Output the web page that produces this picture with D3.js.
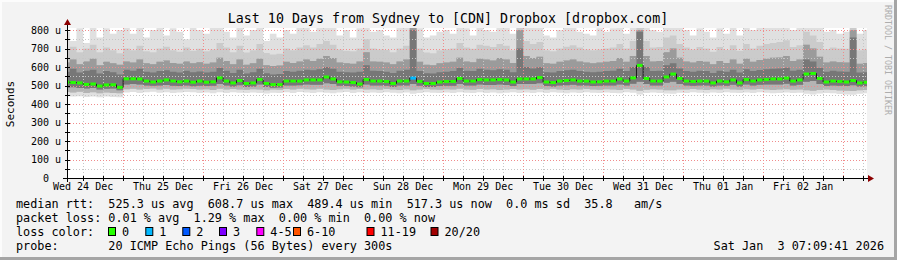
<!DOCTYPE html>
<html>
<head>
<meta charset="utf-8">
<script src="https://cdn.jsdelivr.net/npm/d3@7"></script>
<style>
body { margin: 0; background: #f3f3f3; }
svg text { font-family: "DejaVu Sans Mono", monospace; fill: #000; }
</style>
</head>
<body>
<script>
// 2-hourly consolidated data, first bin starts Wed 24 Dec 06:00
var median = [518,516,514,506,508,497,503,504,490,
  536,536,535,524,519,524,530,524,520,524,518,524,
  518,520,541,524,514,527,511,514,532,511,505,505,
  524,524,524,530,530,530,546,535,520,519,516,508,
  532,524,524,522,511,524,524,540,522,511,511,519,
  522,522,538,524,524,532,530,530,532,530,519,535,
  535,535,543,519,516,524,527,530,524,524,519,520,
  524,524,535,524,541,608.7,538,524,524,546,562,538,
  524,522,524,524,514,524,520,530,514,532,524,530,
  532,535,535,540,524,530,562,565,538,519,524,522,
  519,527,514,517.3];

// lost pings (of 20) per bin
var loss = [0,0,0,0,0,0,0,0,0, 0,0,0,0,0,0,0,0,0,0,0,0, 0,0,0,0,0,0,0,0,0,0,0,0,
  0,0,0,0,0,0,0,0,0,0,0,0, 0,0,0,0,0,0,0,1,0,0,0,0, 0,0,0,0,0,0,0,0,0,0,0,0,
  0,0,0,0,0,0,0,0,0,0,0,0, 0,0,0,0,0,0,0,0,0,0,0,0, 0,0,0,0,0,0,0,0,0,0,0,0,
  0,0,0,0,0,0,0,0,0,0,0,0, 0,0,0,0];

// smoke: spread of the 20 pings
var pingMin = [445,440,442,438,440,436,440,438,437,
  462,465,460,463,466,461,464,460,462,465,463,460,
  462,458,464,460,463,461,459,462,460,457,461,459,
  463,460,465,462,460,464,461,458,462,465,460,463,
  460,462,459,463,461,458,462,455,460,463,461,459,
  462,460,464,461,459,463,460,462,458,461,463,460,
  462,459,463,460,464,461,458,462,460,463,461,459,
  462,460,458,463,461,452,459,462,460,457,455,461,
  460,463,461,458,462,460,464,461,459,462,460,463,
  461,458,460,462,459,461,455,452,457,460,458,454,
  452,450,455,458];
var pingLow = [465,462,466,460,463,458,462,460,458,
  480,483,478,481,484,479,482,478,480,483,481,478,
  480,476,482,478,481,479,477,480,478,475,479,477,
  481,478,483,480,478,482,479,476,480,483,478,481,
  478,480,477,481,479,476,480,474,478,481,479,477,
  480,478,482,479,477,481,478,480,476,479,481,478,
  480,477,481,478,482,479,476,480,478,481,479,477,
  480,478,476,481,479,472,477,480,478,475,474,479,
  478,481,479,476,480,478,482,479,477,480,478,481,
  479,476,478,480,477,479,474,472,476,478,476,473,
  471,470,474,476];
var coreLow = [488,490,486,484,486,478,482,484,474,
  505,508,506,500,498,500,503,499,497,500,496,499,
  497,498,508,500,494,502,492,495,505,492,488,489,
  500,500,501,505,504,504,512,508,498,497,495,490,
  505,500,500,498,492,500,500,508,499,492,492,497,
  499,499,508,500,500,505,503,503,505,503,497,508,
  508,508,512,497,495,500,502,504,500,500,497,498,
  500,500,506,500,510,520,508,500,500,515,520,508,
  500,498,500,500,494,500,498,504,494,505,500,504,
  505,506,506,510,500,504,520,525,508,497,500,498,
  497,502,494,496];
var coreHigh = [575,590,570,580,585,565,578,572,560,
  585,580,590,575,570,578,582,574,570,580,572,576,
  570,575,595,580,568,585,565,572,590,566,560,562,
  578,575,580,585,582,588,600,590,574,572,570,575,
  610,580,578,575,568,580,585,800,578,566,565,572,
  575,578,595,580,578,590,585,583,588,585,572,700,
  600,592,598,572,570,578,582,585,578,575,572,574,
  578,580,590,578,600,790,600,578,580,610,620,592,
  578,575,580,578,568,580,574,585,570,588,578,584,
  588,590,592,596,580,585,640,630,595,574,580,576,
  575,760,570,572];
var pingMid = [625,640,615,630,645,610,628,620,612,
  630,625,640,620,615,628,635,622,618,630,620,626,
  618,625,650,632,615,640,612,620,645,610,605,608,
  628,622,630,640,632,645,660,648,625,620,618,630,
  680,630,628,625,615,630,640,820,628,612,610,620,
  625,628,650,630,626,645,640,635,648,640,622,800,
  660,648,655,620,618,628,635,640,630,625,620,624,
  628,632,648,628,660,800,660,630,632,680,700,650,
  630,625,632,628,615,632,622,640,618,645,628,638,
  645,650,652,660,632,640,720,700,655,624,630,626,
  625,800,618,622];
var pingHigh = [690,710,680,700,720,680,705,690,675,
  700,690,715,685,680,700,710,690,682,705,688,698,
  685,695,730,705,680,715,678,690,725,676,668,672,
  700,690,705,718,705,725,740,720,695,688,685,700,
  750,700,695,692,680,700,715,840,700,678,675,690,
  695,700,730,705,698,720,715,708,725,715,690,820,
  740,725,735,690,685,700,710,718,705,695,690,695,
  700,705,725,700,740,820,740,705,708,760,770,725,
  705,695,708,700,682,708,692,718,688,725,700,715,
  725,730,735,745,708,718,790,770,735,696,705,700,
  698,820,690,695];
var pingMax = [790,740,810,730,820,760,810,780,800,
  820,780,840,760,800,830,770,810,790,750,820,800,
  780,820,850,790,760,830,770,800,840,740,780,760,
  800,780,820,850,790,830,860,820,770,800,760,810,
  850,790,800,770,760,820,830,900,810,760,770,790,
  800,780,840,810,770,830,800,790,840,820,780,900,
  850,820,830,770,760,800,820,840,790,780,770,810,
  790,810,840,780,850,900,850,800,790,850,860,820,
  800,770,810,790,760,810,780,830,770,840,800,820,
  830,840,850,860,800,820,880,860,840,790,800,780,
  790,900,780,800];

var yTicks = [0,100,200,300,400,500,600,700,800];
var lossLabels = ["0","1","2","3","4-5","6-10","11-19","20/20"];
var lossColors = ["#26ff00","#00b8ff","#0059ff","#7e00ff","#ff00ff","#ff5500","#ff0000","#a10000"];
var statLines = [
  "median rtt:  525.3 us avg  608.7 us max  489.4 us min  517.3 us now  0.0 ms sd  35.8   am/s",
  "packet loss: 0.01 % avg  1.29 % max  0.00 % min  0.00 % now"
];
var probeLine = "probe:       20 ICMP Echo Pings (56 Bytes) every 300s";
var stamp = "Sat Jan  3 07:09:41 2026";

var w = 897, h = 260;
var pLeft = 67, pRight = 867, pTop = 28, pBottom = 178;

var svg = d3.select("body").append("svg")
  .attr("width", w)
  .attr("height", h);

svg.append("rect").attr("width", w).attr("height", h).attr("fill", "#f3f3f3");
// frame
svg.append("rect").attr("x", 0).attr("y", 0).attr("width", w).attr("height", 2).attr("fill", "#fcfcfc");
svg.append("rect").attr("x", 0).attr("y", 0).attr("width", 2).attr("height", h).attr("fill", "#fcfcfc");
svg.append("rect").attr("x", 0).attr("y", h - 3).attr("width", w).attr("height", 3).attr("fill", "#a5a5a5");
svg.append("rect").attr("x", w - 3).attr("y", 0).attr("width", 3).attr("height", h).attr("fill", "#a5a5a5");

svg.append("rect")
  .attr("x", pLeft).attr("y", pTop)
  .attr("width", pRight - pLeft).attr("height", pBottom - pTop)
  .attr("fill", "#fff");

var start = new Date(2025, 11, 24, 7, 9, 41);
var end = new Date(2026, 0, 3, 7, 9, 41);
var t0 = new Date(2025, 11, 24, 6, 0, 0);

var x = d3.scaleTime().domain([start, end]).range([pLeft, pRight]);
var y = d3.scaleLinear().domain([0, 800]).range([pBottom, 30]);

var rows = median.map(function(d, i) {
  return {t: d3.timeHour.offset(t0, 2 * i), med: d, loss: loss[i],
    mn: pingMin[i], lo: pingLow[i], cl: coreLow[i], ch: coreHigh[i],
    md: pingMid[i], hi: pingHigh[i], mx: pingMax[i]};
});
var last = rows[rows.length - 1];
var rowsExt = rows.concat([Object.assign({}, last, {t: d3.timeHour.offset(last.t, 2)})]);

svg.append("clipPath").attr("id", "plot")
  .append("rect").attr("x", pLeft).attr("y", pTop).attr("width", pRight - pLeft).attr("height", pBottom - pTop);

var g = svg.append("g").attr("clip-path", "url(#plot)");

// outer pairs of pings light, inner pairs dark
var bands = [
  ["mn", "mx", "#e0e0e0"],
  ["lo", "hi", "#cbcbcb"],
  ["lo", "md", "#b4b4b4"],
  ["cl", "md", "#9b9b9b"],
  ["cl", "ch", "#777777"]
];
bands.forEach(function(b) {
  g.append("path")
    .datum(rowsExt)
    .attr("fill", b[2])
    .attr("d", d3.area().curve(d3.curveStepAfter)
      .x(function(d) { return x(d.t); })
      .y0(function(d) { return y(d[b[0]]); })
      .y1(function(d) { return y(d[b[1]]); }));
});

// grid
var minorY = d3.range(50, 801, 100);
var hours6 = d3.timeHour.every(6).range(start, end).filter(function(d) { return d.getHours() != 0; });
var days = d3.timeDay.range(start, end);

var grid = svg.append("g").attr("shape-rendering", "crispEdges");
grid.selectAll(".hmin").data(minorY).enter().append("line")
  .attr("x1", pLeft).attr("x2", pRight)
  .attr("y1", function(d) { return Math.round(y(d)) + 0.5; })
  .attr("y2", function(d) { return Math.round(y(d)) + 0.5; })
  .style("stroke", "#c6c6c6").style("stroke-dasharray", "1,2");
grid.selectAll(".vmin").data(hours6).enter().append("line")
  .attr("y1", pTop).attr("y2", pBottom)
  .attr("x1", function(d) { return Math.round(x(d)) + 0.5; })
  .attr("x2", function(d) { return Math.round(x(d)) + 0.5; })
  .style("stroke", "#c6c6c6").style("stroke-dasharray", "1,2");
grid.selectAll(".hmaj").data(yTicks.slice(1)).enter().append("line")
  .attr("x1", pLeft).attr("x2", pRight)
  .attr("y1", function(d) { return Math.round(y(d)) + 0.5; })
  .attr("y2", function(d) { return Math.round(y(d)) + 0.5; })
  .style("stroke", "#f08c8c").style("stroke-dasharray", "1,2");
grid.selectAll(".vmaj").data(days).enter().append("line")
  .attr("y1", pTop).attr("y2", pBottom)
  .attr("x1", function(d) { return Math.round(x(d)) + 0.5; })
  .attr("x2", function(d) { return Math.round(x(d)) + 0.5; })
  .style("stroke", "#f08c8c").style("stroke-dasharray", "1,2");

// median line
var ml = svg.append("g").attr("clip-path", "url(#plot)");
ml.append("path")
  .datum(rowsExt)
  .attr("fill", "none")
  .attr("stroke", "#1c1c1c")
  .attr("stroke-width", 1)
  .attr("d", d3.line().curve(d3.curveStepAfter)
    .x(function(d) { return x(d.t); })
    .y(function(d) { return y(d.med); }));

function lossColor(n) {
  if (n >= 20) return lossColors[7];
  if (n >= 11) return lossColors[6];
  if (n >= 6) return lossColors[5];
  if (n >= 4) return lossColors[4];
  return lossColors[n];
}
ml.selectAll(".seg").data(rows).enter().append("line")
  .attr("x1", function(d) { return x(d.t) + 0.5; })
  .attr("x2", function(d) { return x(d3.timeHour.offset(d.t, 2)) - 0.5; })
  .attr("y1", function(d) { return y(d.med); })
  .attr("y2", function(d) { return y(d.med); })
  .attr("stroke", function(d) { return lossColor(d.loss); })
  .attr("stroke-width", 3);

// axes
var ax = svg.append("g").attr("shape-rendering", "crispEdges");
ax.append("line").attr("x1", pLeft - 4).attr("x2", pRight + 3).attr("y1", pBottom + 0.5).attr("y2", pBottom + 0.5)
  .style("stroke", "#000");
ax.append("line").attr("x1", pLeft + 0.5).attr("x2", pLeft + 0.5).attr("y1", pBottom + 4).attr("y2", pTop - 4)
  .style("stroke", "#000");
ax.selectAll(".yt").data(yTicks.slice(1).concat(minorY)).enter().append("line")
  .attr("x1", pLeft - 2).attr("x2", pLeft + 3)
  .attr("y1", function(d) { return Math.round(y(d)) + 0.5; })
  .attr("y2", function(d) { return Math.round(y(d)) + 0.5; })
  .style("stroke", "#000");
ax.selectAll(".xt").data(hours6.concat(days)).enter().append("line")
  .attr("y1", pBottom - 2).attr("y2", pBottom + 3)
  .attr("x1", function(d) { return Math.round(x(d)) + 0.5; })
  .attr("x2", function(d) { return Math.round(x(d)) + 0.5; })
  .style("stroke", "#000");

svg.append("path").attr("d", "M" + (pRight + 1) + "," + (pBottom - 3) + "L" + (pRight + 7) + "," + (pBottom + 0.5) + "L" + (pRight + 1) + "," + (pBottom + 4) + "Z")
  .attr("fill", "#8b0000");
svg.append("path").attr("d", "M" + (pLeft - 3) + "," + (pTop - 3) + "L" + (pLeft + 0.5) + "," + (pTop - 9) + "L" + (pLeft + 4) + "," + (pTop - 3) + "Z")
  .attr("fill", "#8b0000");

svg.selectAll(".ylab").data(yTicks).enter().append("text")
  .attr("x", function(d) { return d === 0 ? 49 : 61; })
  .attr("y", function(d) { return y(d) + 3.5; })
  .attr("text-anchor", "end")
  .style("font-size", "10px")
  .text(function(d) { return d === 0 ? "0" : d + " u"; });

var noons = days.map(function(d) { return d3.timeHour.offset(d, 12); })
  .filter(function(d) { return d < end; });
noons.unshift(new Date(2025, 11, 24, 12));
svg.selectAll(".xlab").data(noons).enter().append("text")
  .attr("x", function(d) { return x(d); }).attr("y", 190)
  .attr("text-anchor", "middle")
  .style("font-size", "10px")
  .text(d3.timeFormat("%a %d %b"));

svg.append("text")
  .attr("x", 448).attr("y", 23)
  .attr("text-anchor", "middle")
  .style("font-size", "13.3px")
  .text("Last 10 Days from Sydney to [CDN] Dropbox [dropbox.com]");

svg.append("text")
  .attr("transform", "translate(14,104) rotate(-90)")
  .attr("text-anchor", "middle")
  .style("font-size", "11px")
  .text("Seconds");

svg.append("text")
  .attr("transform", "translate(885,5) rotate(90)")
  .style("font-size", "8.3px")
  .style("fill", "#adadad")
  .text("RRDTOOL / TOBI OETIKER");

// legend
var legendFont = "11.8px";
statLines.forEach(function(s, i) {
  svg.append("text").attr("x", 16).attr("y", 208 + i * 14)
    .style("font-size", legendFont).style("white-space", "pre")
    .attr("xml:space", "preserve").text(s);
});
svg.append("text").attr("x", 16).attr("y", 236)
  .style("font-size", legendFont).text("loss color:");
var boxX = [108.5, 145.8, 182.8, 219.5, 256.8, 293.5, 367, 431];
lossLabels.forEach(function(l, i) {
  svg.append("rect")
    .attr("x", boxX[i]).attr("y", 227.5).attr("width", 7).attr("height", 8)
    .attr("fill", lossColors[i]).attr("stroke", "#000").attr("stroke-width", 1);
  svg.append("text").attr("x", boxX[i] + 13.5).attr("y", 236)
    .style("font-size", legendFont).text(l);
});
svg.append("text").attr("x", 16).attr("y", 250)
  .style("font-size", legendFont).style("white-space", "pre")
  .attr("xml:space", "preserve").text(probeLine);
svg.append("text").attr("x", 884).attr("y", 250)
  .attr("text-anchor", "end")
  .style("font-size", legendFont).style("white-space", "pre")
  .attr("xml:space", "preserve").text(stamp);
</script>
</body>
</html>
